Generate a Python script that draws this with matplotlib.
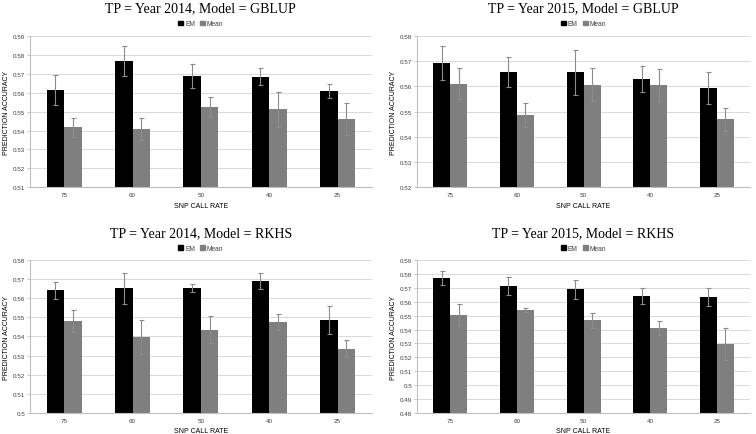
import matplotlib
matplotlib.use("Agg")
import matplotlib.pyplot as plt
from matplotlib.patches import Patch
from matplotlib.ticker import FuncFormatter, MultipleLocator
import numpy as np

EM_COLOR = "#000000"
MEAN_COLOR = "#7f7f7f"
ERR_COLOR = "#8c8c8c"
GRID = "#d9d9d9"
AXIS = "#bfbfbf"
INK = "#404040"

call_rates = ["75", "60", "50", "40", "25"]

# TP = 2014, GBLUP
em_2014_gblup = [0.5613, 0.5765, 0.5689, 0.5684, 0.5608]
em_2014_gblup_err = [0.0080, 0.0080, 0.0063, 0.0045, 0.0035]
mean_2014_gblup = [0.5417, 0.5408, 0.5522, 0.5511, 0.5460]
mean_2014_gblup_err = [0.0050, 0.0060, 0.0053, 0.0093, 0.0083]

# TP = 2015, GBLUP
em_2015_gblup = [0.5692, 0.5656, 0.5655, 0.5629, 0.5594]
em_2015_gblup_err = [0.0068, 0.0060, 0.0088, 0.0050, 0.0063]
mean_2015_gblup = [0.5610, 0.5485, 0.5607, 0.5604, 0.5469]
mean_2015_gblup_err = [0.0061, 0.0047, 0.0065, 0.0065, 0.0047]

# TP = 2014, RKHS
em_2014_rkhs = [0.5642, 0.5653, 0.5653, 0.5691, 0.5485]
em_2014_rkhs_err = [0.0046, 0.0082, 0.0021, 0.0044, 0.0073]
mean_2014_rkhs = [0.5480, 0.5396, 0.5436, 0.5474, 0.5336]
mean_2014_rkhs_err = [0.0058, 0.0089, 0.0072, 0.0042, 0.0044]

# TP = 2015, RKHS
em_2015_rkhs = [0.5770, 0.5715, 0.5691, 0.5645, 0.5633]
em_2015_rkhs_err = [0.0051, 0.0063, 0.0067, 0.0058, 0.0065]
mean_2015_rkhs = [0.5503, 0.5541, 0.5467, 0.5411, 0.5296]
mean_2015_rkhs_err = [0.0079, 0.0012, 0.0055, 0.0053, 0.0113]

plt.rcParams.update({
    "font.family": ["Liberation Sans", "DejaVu Sans"],
    "text.color": INK,
    "xtick.color": INK,
    "ytick.color": INK,
})

fig = plt.figure(figsize=(7.56, 4.35), dpi=100)

panels = [
    ("TP = Year 2014, Model = GBLUP", [0.0397, 0.567, 0.452, 0.3485], (0.51, 0.59),
     em_2014_gblup, em_2014_gblup_err, mean_2014_gblup, mean_2014_gblup_err),
    ("TP = Year 2015, Model = GBLUP", [0.5516, 0.567, 0.4405, 0.3485], (0.52, 0.58),
     em_2015_gblup, em_2015_gblup_err, mean_2015_gblup, mean_2015_gblup_err),
    ("TP = Year 2014, Model = RKHS", [0.0397, 0.049, 0.452, 0.3503], (0.50, 0.58),
     em_2014_rkhs, em_2014_rkhs_err, mean_2014_rkhs, mean_2014_rkhs_err),
    ("TP = Year 2015, Model = RKHS", [0.5516, 0.049, 0.4405, 0.3503], (0.48, 0.59),
     em_2015_rkhs, em_2015_rkhs_err, mean_2015_rkhs, mean_2015_rkhs_err),
]

x = np.arange(len(call_rates))
w = 0.255
fmt = FuncFormatter(lambda v, _: f"{round(v, 2):g}")

for title, rect, ylim, em, em_err, mean, mean_err in panels:
    ax = fig.add_axes(rect)
    err_kw = dict(ecolor=ERR_COLOR, elinewidth=0.8, capsize=1.8, capthick=0.8)
    ax.bar(x - w / 2, em, w, yerr=em_err, color=EM_COLOR, error_kw=err_kw, zorder=2)
    ax.bar(x + w / 2, mean, w, yerr=mean_err, color=MEAN_COLOR, error_kw=err_kw, zorder=2)
    ax.set_xlim(-0.5, len(call_rates) - 0.5)
    ax.set_ylim(*ylim)
    ax.yaxis.set_major_locator(MultipleLocator(0.01))
    ax.yaxis.set_major_formatter(fmt)
    ax.set_xticks(x, call_rates)
    ax.grid(axis="y", color=GRID, linewidth=0.7, zorder=0)
    ax.set_axisbelow(True)
    for s in ("top", "right"):
        ax.spines[s].set_visible(False)
    for s in ("left", "bottom"):
        ax.spines[s].set_color(AXIS)
        ax.spines[s].set_linewidth(0.8)
    ax.tick_params(axis="y", labelsize=4.5, length=2, width=0.6, color=AXIS, pad=1.5)
    ax.tick_params(axis="x", labelsize=4.5, length=0, pad=3.5)
    ax.set_xlabel("SNP CALL RATE", fontsize=5, labelpad=3.5)
    ax.set_ylabel("PREDICTION ACCURACY", fontsize=5, labelpad=2)
    ax.set_title(title, fontsize=10, family=["Liberation Serif", "DejaVu Serif"],
                 color="#000000", pad=17.5)
    handles = [Patch(color=EM_COLOR, label="EM"), Patch(color=MEAN_COLOR, label="Mean")]
    ax.legend(handles=handles, loc="lower center", bbox_to_anchor=(0.5, 1.03), ncol=2,
              frameon=False, fontsize=4.8, handlelength=0.7, handleheight=0.7,
              handletextpad=0.3, columnspacing=0.8, borderaxespad=0.2)

fig.savefig("out.png", dpi=100)
